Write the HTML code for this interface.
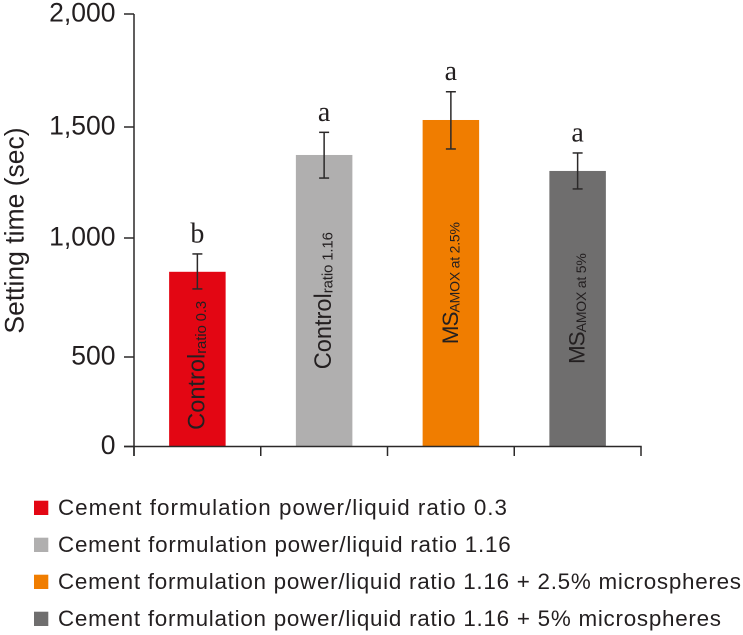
<!DOCTYPE html>
<html>
<head>
<meta charset="utf-8">
<title>Setting time chart</title>
<style>
html,body{margin:0;padding:0;background:#fff;}
svg{display:block;}
text{fill:#231f20;font-family:"Liberation Sans",sans-serif;}
</style>
</head>
<body>
<svg id="chart" width="743" height="635" viewBox="0 0 743 635" xmlns="http://www.w3.org/2000/svg"></svg>
<script>
const categories = ["Control ratio 0.3", "Control ratio 1.16", "MS AMOX at 2.5%", "MS AMOX at 5%"];
const barMain = ["Control", "Control", "MS", "MS"];
const barSub = ["ratio 0.3", "ratio 1.16", "AMOX at 2.5%", "AMOX at 5%"];
const means = [858, 1374, 1531, 1302];
const errorHigh = [933, 1476, 1656, 1383];
const errorLow = [786, 1270, 1401, 1221];
const significance = ["b", "a", "a", "a"];
const colors = ["#e30613", "#b0afaf", "#f07d00", "#6f6e6e"];
const tickValues = [0, 500, 1000, 1500, 2000];
const tickLabels = ["0", "500", "1,000", "1,500", "2,000"];
const legendLabels = [
  "Cement formulation power/liquid ratio 0.3",
  "Cement formulation power/liquid ratio 1.16",
  "Cement formulation power/liquid ratio 1.16 + 2.5% microspheres",
  "Cement formulation power/liquid ratio 1.16 + 5% microspheres"
];

const NS = "http://www.w3.org/2000/svg";
const svg = document.getElementById("chart");
const INK = "#2b2929";

/* The printed axis is unevenly spaced, so the scale is piecewise between its ticks. */
const axisPixels = [446.5, 357, 238, 127, 14];
function yScale(v) {
  let i = 0;
  while (i < tickValues.length - 2 && v > tickValues[i + 1]) i++;
  const t = (v - tickValues[i]) / (tickValues[i + 1] - tickValues[i]);
  return axisPixels[i] + t * (axisPixels[i + 1] - axisPixels[i]);
}
const plotLeft = 134, plotRight = 641;
const band = (plotRight - plotLeft) / categories.length;
function xCenter(i) { return plotLeft + band * (i + 0.5); }
const barWidth = 56.5;

function el(tag, attrs, parent) {
  const n = document.createElementNS(NS, tag);
  for (const k in attrs) n.setAttribute(k, attrs[k]);
  (parent || svg).appendChild(n);
  return n;
}

/* bars */
categories.forEach((c, i) => {
  const top = yScale(means[i]);
  const bar = el("rect", {x: xCenter(i) - barWidth / 2, y: top, width: barWidth, height: yScale(0) - top, fill: colors[i]});
  
  
});

/* axes */
const yAxis = el("line", {x1: plotLeft, x2: plotLeft, y1: yScale(2000), y2: 456, stroke: INK, "stroke-width": 1.5});


const xAxis = el("line", {x1: 124, x2: plotRight + 0.7, y1: yScale(0), y2: yScale(0), stroke: INK, "stroke-width": 1.5});



tickValues.forEach((v, i) => {
  const y = yScale(v);
  const tick = el("line", {x1: 124, x2: plotLeft, y1: y, y2: y, stroke: INK, "stroke-width": 1.5});
  
  
  const label = el("text", {x: 115.5, y: y + 7.5, "text-anchor": "end", "font-size": 26.5});
  
  
  label.textContent = tickLabels[i];
});

for (let i = 0; i <= categories.length; i++) {
  const x = plotLeft + band * i;
  const tick = el("line", {x1: x, x2: x, y1: yScale(0), y2: 456, stroke: INK, "stroke-width": 1.5});
  
  
}

/* y axis title */
const yTitle = el("text", {transform: "translate(23.5,230.5) rotate(-90)", "text-anchor": "middle", "font-size": 26.5});


yTitle.textContent = "Setting time (sec)";

/* error bars, significance letters, labels in bars */
categories.forEach((c, i) => {
  const cx = xCenter(i);
  const hi = yScale(errorHigh[i]), lo = yScale(errorLow[i]);
  const err = el("g", {stroke: "#2b2929", "stroke-width": 1.5, fill: "none"});
  
  
  el("line", {x1: cx, x2: cx, y1: hi, y2: lo}, err);
  el("line", {x1: cx - 5, x2: cx + 5, y1: hi, y2: hi}, err);
  el("line", {x1: cx - 5, x2: cx + 5, y1: lo, y2: lo}, err);

  const sig = el("text", {x: cx, y: hi - 11.5, "text-anchor": "middle", "font-size": 28, style: "font-family:'Liberation Serif',serif"});
  
  
  sig.textContent = significance[i];

  const mid = (yScale(means[i]) + yScale(0)) / 2;
  const lab = el("text", {"text-anchor": "middle"});
  
  
  const isMS = barMain[i] === "MS";
  const main = el("tspan", {"font-size": isMS ? 22.5 : 23.6, "letter-spacing": isMS ? -1 : 0}, lab);
  main.textContent = barMain[i];
  const sub = el("tspan", {"font-size": isMS ? 14 : 15, dy: 1.5, "letter-spacing": isMS ? -0.2 : -0.15}, lab);
  sub.textContent = barSub[i];
  const len = lab.getComputedTextLength();
  const minCenter = lo + 12 + len / 2;
  const cy = Math.max(mid, minCenter);
  lab.setAttribute("transform", "translate(" + (cx + 7) + "," + cy + ") rotate(-90)");
});

/* legend */
const legendWidths = [449, 452.7, 683, 663];
legendLabels.forEach((t, i) => {
  const baseline = 515 + i * 37;
  const sw = el("rect", {x: 34, y: baseline - 14.3, width: 14.3, height: 14.3, fill: colors[i]});
  
  
  const tx = el("text", {x: 58, y: baseline, "font-size": 22.4, textLength: legendWidths[i], lengthAdjust: "spacing"});
  
  
  tx.textContent = t;
});
</script>
</body>
</html>
